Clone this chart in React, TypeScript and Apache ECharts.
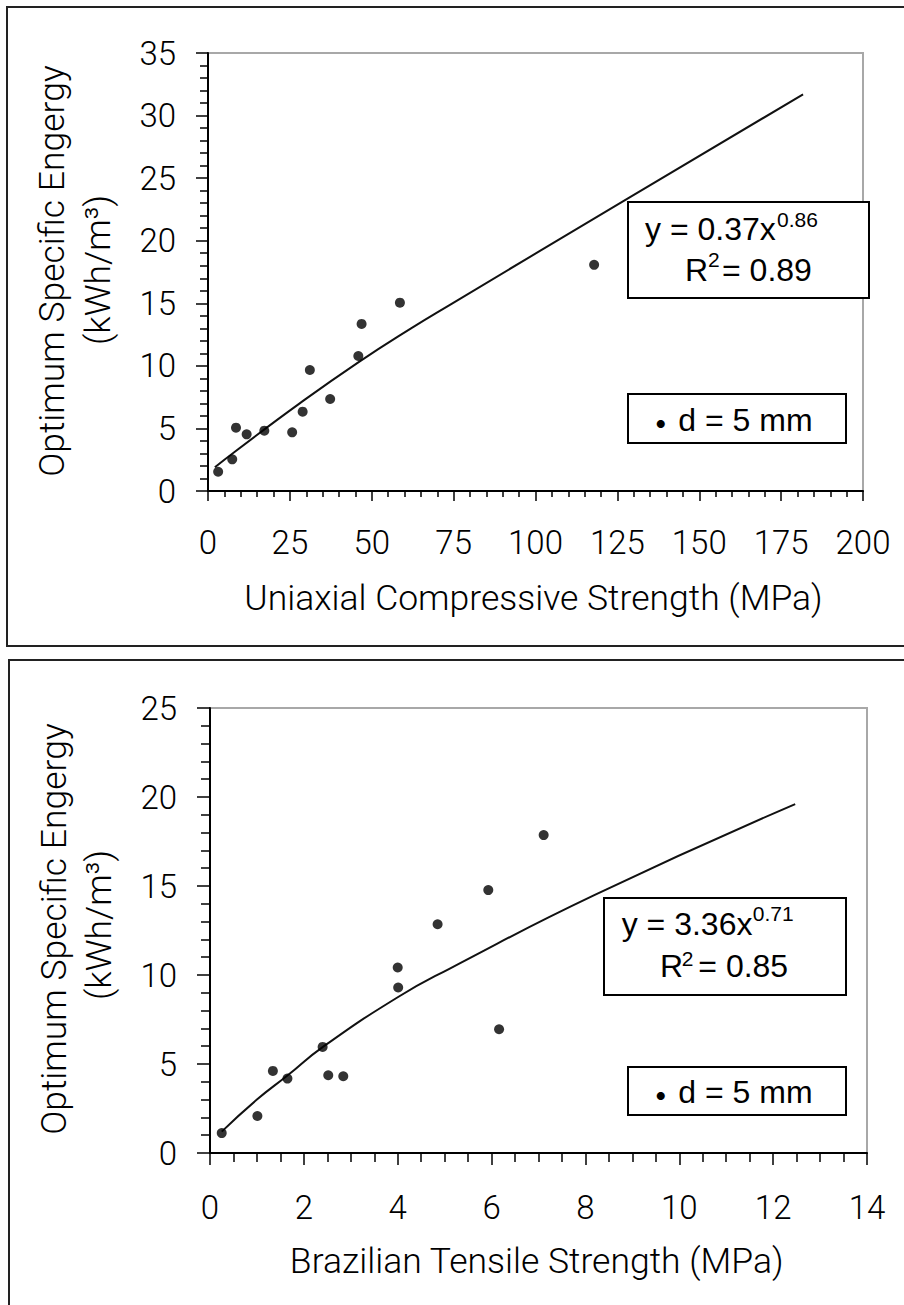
import React, { useEffect, useRef } from "react";
import * as echarts from "echarts";

// ---- Data: top panel (Uniaxial Compressive Strength) ----
const ucsX = [3.1, 7.4, 8.55, 11.8, 17.2, 25.7, 28.9, 31.1, 37.3, 45.9, 46.9, 58.6, 117.9];
const ucsY = [1.54, 2.53, 5.06, 4.53, 4.82, 4.69, 6.34, 9.67, 7.35, 10.79, 13.35, 15.05, 18.07];
const ucsFitX = [2.1, 8, 28, 46, 62, 74, 129, 181.7];
const ucsFitY = [1.9, 3.1, 7.0, 10.3, 13.0, 14.9, 23.5, 31.7];
const ucsTicksX = [0, 25, 50, 75, 100, 125, 150, 175, 200];
const ucsTicksY = [0, 5, 10, 15, 20, 25, 30, 35];

// ---- Data: bottom panel (Brazilian Tensile Strength) ----
const btsX = [0.25, 1.01, 1.34, 1.65, 2.4, 2.52, 2.84, 4.01, 4.0, 4.85, 5.93, 6.16, 7.11];
const btsY = [1.12, 2.08, 4.61, 4.18, 5.96, 4.37, 4.31, 9.3, 10.42, 12.85, 14.77, 6.95, 17.86];
const btsFitX = [0.25, 1.0, 1.65, 2.4, 4.0, 5.1, 8.2, 12.47];
const btsFitY = [1.2, 3.0, 4.35, 5.95, 8.75, 10.35, 14.5, 19.6];
const btsTicksX = [0, 2, 4, 6, 8, 10, 12, 14];
const btsTicksY = [0, 5, 10, 15, 20, 25];

const FONT_TICK = 'Roboto, "DejaVu Sans", sans-serif';
const W_TICK = 300;
const TITLE_SIZE = 35.5;
const FONT_EQ = '"Liberation Sans", Arial, sans-serif';
const FONT_DOT = '"Noto Sans CJK JP", sans-serif';

const pairs = (xs: number[], ys: number[]) => xs.map((x, i) => [x, ys[i]]);

function txt(
  x: number,
  y: number,
  text: string,
  size: number,
  family: string,
  align: string = "left",
  rotation: number = 0,
  weight: number | string = "normal"
) {
  return {
    type: "text",
    x,
    y,
    rotation,
    z: 110,
    style: {
      text,
      fill: "#000",
      font: `${weight} ${size}px ${family}`,
      textAlign: align,
      textVerticalAlign: "middle",
    },
  };
}

function box(x: number, y: number, w: number, h: number) {
  return {
    type: "rect",
    z: 100,
    shape: { x, y, width: w, height: h },
    style: { fill: "#fff", stroke: "#000", lineWidth: 2 },
  };
}

const labelStyle = (margin: number) => ({
  color: "#000",
  fontSize: 33,
  fontFamily: FONT_TICK,
  fontWeight: W_TICK,
  margin,
});

function xAxisCfg(grid: number, ticks: number[], minorSplit: number, majLen: number, minLen: number, margin: number) {
  return {
    gridIndex: grid,
    type: "value",
    min: ticks[0],
    max: ticks[ticks.length - 1],
    interval: ticks[1] - ticks[0],
    axisLine: { show: true, onZero: false, lineStyle: { color: "#000", width: 2 } },
    axisTick: { show: true, length: majLen, lineStyle: { color: "#000", width: 1.5 } },
    minorTick: { show: true, splitNumber: minorSplit, length: minLen, lineStyle: { color: "#000", width: 1.5 } },
    splitLine: { show: false },
    minorSplitLine: { show: false },
    axisLabel: labelStyle(margin),
  };
}

function yAxisCfg(grid: number, ticks: number[], majLen: number, minLen: number, margin: number) {
  return {
    gridIndex: grid,
    type: "value",
    min: ticks[0],
    max: ticks[ticks.length - 1],
    interval: ticks[1] - ticks[0],
    axisLine: { show: true, onZero: false, lineStyle: { color: "#000", width: 2 } },
    axisTick: { show: true, length: majLen, lineStyle: { color: "#000", width: 1.5 } },
    minorTick: { show: true, splitNumber: 5, length: minLen, lineStyle: { color: "#000", width: 1.5 } },
    splitLine: { show: false },
    minorSplitLine: { show: false },
    axisLabel: labelStyle(margin),
  };
}

export default function App() {
  const ref = useRef<HTMLDivElement>(null);

  useEffect(() => {
    if (!ref.current) return;
    const chart = echarts.init(ref.current, undefined, { renderer: "svg" });

    const option = {
      animation: false,
      backgroundColor: "#fff",
      grid: [
        {
          left: 208,
          top: 53,
          width: 655,
          height: 438,
          show: true,
          borderColor: "#a8a8a8",
          borderWidth: 2,
          backgroundColor: "transparent",
        },
        {
          left: 210,
          top: 708,
          width: 657,
          height: 445,
          show: true,
          borderColor: "#a8a8a8",
          borderWidth: 2,
          backgroundColor: "transparent",
        },
      ],
      xAxis: [xAxisCfg(0, ucsTicksX, 5, 10, 6, 35), xAxisCfg(1, btsTicksX, 4, 12, 9, 38)],
      yAxis: [yAxisCfg(0, ucsTicksY, 12, 8, 32), yAxisCfg(1, btsTicksY, 13, 9, 33)],
      series: [
        {
          type: "line",
          xAxisIndex: 0,
          yAxisIndex: 0,
          data: pairs(ucsFitX, ucsFitY),
          showSymbol: false,
          smooth: 0.5,
          lineStyle: { color: "#111", width: 2 },
          z: 3,
        },
        {
          type: "scatter",
          xAxisIndex: 0,
          yAxisIndex: 0,
          data: pairs(ucsX, ucsY),
          symbol: "circle",
          symbolSize: 10,
          itemStyle: { color: "#000" },
          z: 4,
        },
        {
          type: "line",
          xAxisIndex: 1,
          yAxisIndex: 1,
          data: pairs(btsFitX, btsFitY),
          showSymbol: false,
          smooth: 0.5,
          lineStyle: { color: "#111", width: 2 },
          z: 3,
        },
        {
          type: "scatter",
          xAxisIndex: 1,
          yAxisIndex: 1,
          data: pairs(btsX, btsY),
          symbol: "circle",
          symbolSize: 10,
          itemStyle: { color: "#000" },
          z: 4,
        },
      ],
      graphic: [
        // outer panel frames
        {
          type: "rect",
          z: 1,
          shape: { x: 7, y: 7, width: 1000, height: 639 },
          style: { fill: "none", stroke: "#222", lineWidth: 2 },
        },
        {
          type: "rect",
          z: 1,
          shape: { x: 9, y: 660, width: 1000, height: 700 },
          style: { fill: "none", stroke: "#222", lineWidth: 2 },
        },
        // axis titles
        txt(533.5, 598, "Uniaxial Compressive Strength (MPa)", TITLE_SIZE, FONT_TICK, "center", 0, W_TICK),
        txt(52, 271, "Optimum Specific Engergy", TITLE_SIZE, FONT_TICK, "center", Math.PI / 2, W_TICK),
        txt(98, 270, "(kWh/m³)", TITLE_SIZE, FONT_TICK, "center", Math.PI / 2, W_TICK),
        txt(536.7, 1261, "Brazilian Tensile Strength (MPa)", TITLE_SIZE, FONT_TICK, "center", 0, W_TICK),
        txt(54, 929, "Optimum Specific Engergy", TITLE_SIZE, FONT_TICK, "center", Math.PI / 2, W_TICK),
        txt(99, 925, "(kWh/m³)", TITLE_SIZE, FONT_TICK, "center", Math.PI / 2, W_TICK),
        // top equation box
        box(628, 202, 241, 96),
        txt(645, 229.2, "y = 0.37x", 32, FONT_EQ),
        txt(777, 219.1, "0.86", 21, FONT_EQ),
        txt(685, 270.2, "R", 32, FONT_EQ),
        txt(708, 259.1, "2", 21, FONT_EQ),
        txt(722, 270.2, "= 0.89", 32, FONT_EQ),
        // top legend box
        box(628, 394, 218, 49),
        txt(660.7, 421, "・", 38, FONT_DOT, "center"),
        txt(678.3, 420.2, "d = 5 mm", 32, FONT_EQ),
        // bottom equation box
        box(604, 898, 242, 97),
        txt(621.7, 923.5, "y = 3.36x", 32, FONT_EQ),
        txt(752.7, 913.1, "0.71", 21, FONT_EQ),
        txt(660, 966.2, "R", 32, FONT_EQ),
        txt(681.7, 958.4, "2", 21, FONT_EQ),
        txt(698.3, 966.2, "= 0.85", 32, FONT_EQ),
        // bottom legend box
        box(628, 1067, 218, 48),
        txt(660.7, 1093, "・", 38, FONT_DOT, "center"),
        txt(678.3, 1091.8, "d = 5 mm", 32, FONT_EQ),
      ],
    };

    chart.setOption(option as any);
    return () => chart.dispose();
  }, []);

  return (
    <div
      ref={ref}
      style={{ position: "absolute", left: 0, top: 0, width: 904, height: 1305, background: "#fff" }}
    />
  );
}
